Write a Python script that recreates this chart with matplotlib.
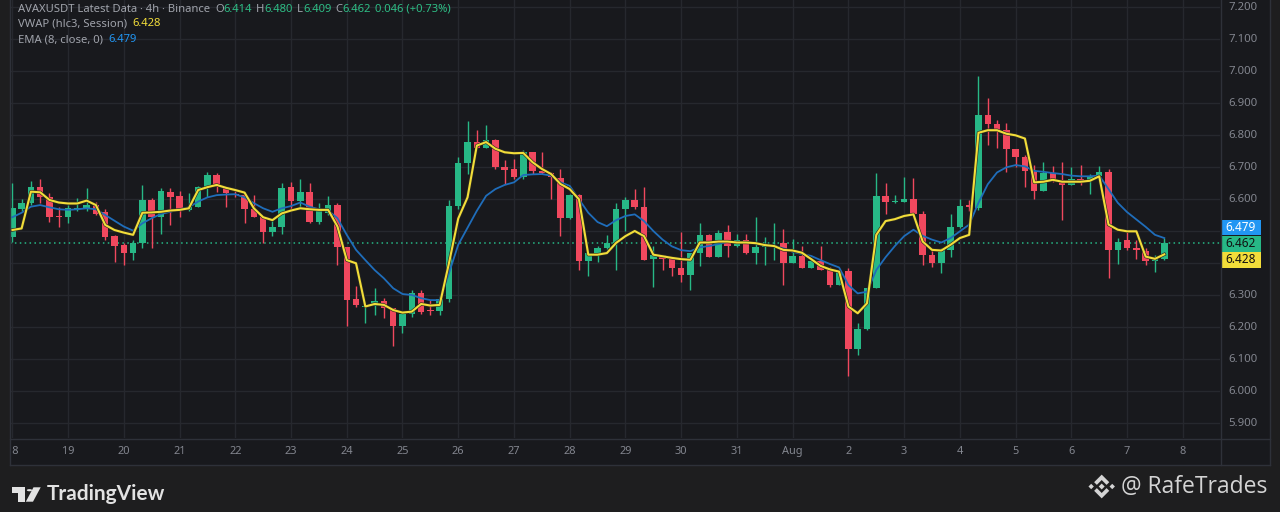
import numpy as np
import matplotlib
matplotlib.use("Agg")
from matplotlib import pyplot as plt
from matplotlib.patches import Rectangle, Polygon, Circle
import matplotlib.patheffects as pe

# ---- 4h candles, AVAXUSDT ----
opens = [6.481, 6.570, 6.588, 6.640, 6.606, 6.547, 6.544, 6.569, 6.570, 6.583,
         6.559, 6.485, 6.457, 6.433, 6.465, 6.598, 6.544, 6.624, 6.610, 6.567,
         6.577, 6.640, 6.676, 6.637, 6.617, 6.614, 6.569, 6.546, 6.499, 6.515,
         6.637, 6.596, 6.624, 6.528, 6.556, 6.582, 6.450, 6.287, 6.265, 6.268,
         6.283, 6.261, 6.204, 6.242, 6.306, 6.253, 6.250, 6.290, 6.579, 6.714,
         6.779, 6.760, 6.784, 6.702, 6.695, 6.669, 6.747, 6.690, 6.682, 6.667,
         6.543, 6.613, 6.406, 6.432, 6.448, 6.462, 6.571, 6.598, 6.577, 6.413,
         6.427, 6.417, 6.385, 6.364, 6.433, 6.489, 6.421, 6.499, 6.454, 6.473,
         6.433, 6.452, 6.455, 6.465, 6.402, 6.424, 6.384, 6.408, 6.381, 6.332,
         6.376, 6.132, 6.195, 6.324, 6.610, 6.593, 6.593, 6.600, 6.553, 6.426,
         6.402, 6.442, 6.514, 6.581, 6.574, 6.863, 6.834, 6.816, 6.758, 6.731,
         6.687, 6.626, 6.682, 6.661, 6.644, 6.663, 6.661, 6.672, 6.686, 6.442,
         6.474, 6.447, 6.440, 6.408, 6.414]
highs = [6.650, 6.600, 6.658, 6.662, 6.619, 6.577, 6.583, 6.603, 6.634, 6.593,
         6.569, 6.488, 6.462, 6.473, 6.645, 6.603, 6.634, 6.634, 6.627, 6.621,
         6.642, 6.686, 6.683, 6.640, 6.629, 6.614, 6.614, 6.546, 6.535, 6.652,
         6.655, 6.662, 6.652, 6.587, 6.610, 6.590, 6.450, 6.329, 6.270, 6.322,
         6.291, 6.261, 6.242, 6.316, 6.318, 6.285, 6.297, 6.598, 6.732, 6.844,
         6.816, 6.832, 6.787, 6.723, 6.726, 6.755, 6.749, 6.747, 6.685, 6.695,
         6.616, 6.616, 6.432, 6.453, 6.487, 6.590, 6.606, 6.632, 6.640, 6.453,
         6.427, 6.417, 6.497, 6.433, 6.527, 6.492, 6.504, 6.519, 6.492, 6.492,
         6.544, 6.483, 6.525, 6.506, 6.475, 6.454, 6.416, 6.454, 6.390, 6.379,
         6.385, 6.212, 6.324, 6.683, 6.652, 6.614, 6.670, 6.666, 6.563, 6.447,
         6.447, 6.553, 6.600, 6.598, 6.987, 6.916, 6.847, 6.837, 6.758, 6.737,
         6.707, 6.718, 6.703, 6.718, 6.700, 6.707, 6.679, 6.705, 6.695, 6.479,
         6.505, 6.474, 6.447, 6.426, 6.480]
lows = [6.467, 6.565, 6.583, 6.590, 6.530, 6.515, 6.527, 6.565, 6.565, 6.551,
        6.473, 6.405, 6.395, 6.410, 6.448, 6.448, 6.492, 6.520, 6.546, 6.565,
        6.575, 6.608, 6.624, 6.577, 6.608, 6.525, 6.544, 6.465, 6.486, 6.492,
        6.567, 6.577, 6.525, 6.523, 6.551, 6.395, 6.204, 6.265, 6.215, 6.238,
        6.228, 6.142, 6.181, 6.233, 6.242, 6.240, 6.240, 6.280, 6.570, 6.679,
        6.760, 6.760, 6.695, 6.648, 6.663, 6.664, 6.680, 6.680, 6.600, 6.485,
        6.538, 6.380, 6.360, 6.404, 6.445, 6.378, 6.500, 6.569, 6.411, 6.325,
        6.380, 6.361, 6.343, 6.317, 6.392, 6.419, 6.419, 6.421, 6.450, 6.429,
        6.398, 6.394, 6.410, 6.332, 6.402, 6.384, 6.384, 6.379, 6.327, 6.332,
        6.048, 6.113, 6.192, 6.324, 6.554, 6.588, 6.593, 6.551, 6.395, 6.387,
        6.370, 6.421, 6.511, 6.563, 6.566, 6.771, 6.760, 6.686, 6.700, 6.637,
        6.600, 6.626, 6.655, 6.535, 6.644, 6.644, 6.616, 6.668, 6.353, 6.398,
        6.442, 6.412, 6.395, 6.374, 6.409]
closes = [6.572, 6.590, 6.640, 6.606, 6.544, 6.546, 6.572, 6.571, 6.583, 6.555,
          6.481, 6.454, 6.433, 6.465, 6.598, 6.544, 6.627, 6.608, 6.565, 6.577,
          6.640, 6.676, 6.637, 6.619, 6.614, 6.569, 6.546, 6.499, 6.515, 6.634,
          6.596, 6.624, 6.528, 6.567, 6.582, 6.450, 6.285, 6.270, 6.268, 6.283,
          6.261, 6.204, 6.242, 6.306, 6.249, 6.250, 6.290, 6.579, 6.714, 6.779,
          6.760, 6.784, 6.700, 6.693, 6.669, 6.747, 6.687, 6.682, 6.669, 6.543,
          6.613, 6.406, 6.432, 6.448, 6.462, 6.571, 6.598, 6.577, 6.411, 6.427,
          6.413, 6.385, 6.364, 6.433, 6.489, 6.421, 6.494, 6.454, 6.473, 6.431,
          6.452, 6.455, 6.458, 6.402, 6.424, 6.384, 6.408, 6.379, 6.332, 6.376,
          6.132, 6.195, 6.324, 6.610, 6.593, 6.596, 6.600, 6.553, 6.426, 6.402,
          6.442, 6.514, 6.579, 6.577, 6.863, 6.834, 6.816, 6.756, 6.731, 6.687,
          6.626, 6.682, 6.661, 6.644, 6.663, 6.657, 6.672, 6.686, 6.442, 6.468,
          6.447, 6.442, 6.408, 6.416, 6.462]

# VWAP (hlc3, Session) line, read per candle
vwap = [6.504, 6.509, 6.624, 6.622, 6.598, 6.590, 6.587, 6.587, 6.596, 6.582,
        6.520, 6.504, 6.496, 6.489, 6.558, 6.559, 6.561, 6.565, 6.567, 6.572,
        6.629, 6.638, 6.645, 6.636, 6.629, 6.621, 6.572, 6.544, 6.535, 6.556,
        6.565, 6.572, 6.569, 6.567, 6.567, 6.515, 6.410, 6.400, 6.265, 6.273,
        6.270, 6.254, 6.246, 6.249, 6.273, 6.268, 6.270, 6.400, 6.540, 6.606,
        6.768, 6.779, 6.758, 6.747, 6.744, 6.745, 6.716, 6.695, 6.679, 6.648,
        6.632, 6.600, 6.427, 6.427, 6.432, 6.464, 6.485, 6.501, 6.485, 6.427,
        6.422, 6.417, 6.413, 6.411, 6.465, 6.465, 6.468, 6.468, 6.465, 6.465,
        6.463, 6.457, 6.454, 6.442, 6.440, 6.433, 6.413, 6.392, 6.381, 6.374,
        6.265, 6.244, 6.275, 6.489, 6.532, 6.538, 6.548, 6.553, 6.468, 6.442,
        6.440, 6.458, 6.479, 6.489, 6.808, 6.816, 6.816, 6.805, 6.800, 6.790,
        6.653, 6.655, 6.661, 6.655, 6.655, 6.655, 6.658, 6.672, 6.521, 6.505,
        6.500, 6.500, 6.421, 6.414, 6.428]

# EMA (8, close, 0) line, read per candle
ema = [6.544, 6.558, 6.577, 6.582, 6.575, 6.569, 6.567, 6.569, 6.572, 6.569,
       6.551, 6.533, 6.515, 6.502, 6.525, 6.541, 6.554, 6.561, 6.569, 6.575,
       6.593, 6.606, 6.613, 6.615, 6.616, 6.606, 6.588, 6.572, 6.561, 6.572,
       6.579, 6.590, 6.577, 6.569, 6.565, 6.541, 6.489, 6.442, 6.410, 6.379,
       6.353, 6.322, 6.304, 6.301, 6.291, 6.285, 6.285, 6.369, 6.458, 6.511,
       6.564, 6.611, 6.632, 6.645, 6.653, 6.676, 6.678, 6.679, 6.674, 6.653,
       6.642, 6.600, 6.558, 6.529, 6.516, 6.535, 6.548, 6.553, 6.532, 6.501,
       6.474, 6.453, 6.441, 6.438, 6.450, 6.454, 6.460, 6.467, 6.467, 6.465,
       6.463, 6.457, 6.454, 6.447, 6.436, 6.429, 6.423, 6.410, 6.398, 6.387,
       6.332, 6.306, 6.311, 6.379, 6.419, 6.454, 6.485, 6.505, 6.486, 6.474,
       6.465, 6.479, 6.500, 6.521, 6.589, 6.647, 6.684, 6.700, 6.707, 6.703,
       6.689, 6.686, 6.682, 6.679, 6.674, 6.672, 6.672, 6.674, 6.632, 6.589,
       6.560, 6.537, 6.514, 6.489, 6.479]

# date labels every 6 candles (one day)
day_labels = ["18", "19", "20", "21", "22", "23", "24", "25", "26", "27", "28",
              "29", "30", "31", "Aug", "2", "3", "4", "5", "6", "7", "8"]
price_ticks = [5.9, 6.0, 6.1, 6.2, 6.3, 6.4, 6.5, 6.6, 6.7, 6.8, 6.9, 7.0, 7.1, 7.2]

last_close = 6.462
last_vwap = 6.428
last_ema = 6.479

# colours
BG = "#18191d"
OUTER = "#1e1e1f"
GRID = "#26282e"
BORDER = "#2e3139"
UP = "#27b886"
DOWN = "#f0485e"
YELLOW = "#f2dd3a"
BLUE = "#1f6dba"
TXT = "#a0a3ab"
AXTXT = "#83868f"

W, H = 1280, 512
FONT = ["Noto Sans", "DejaVu Sans"]
plt.rcParams["font.family"] = FONT


def fx(x):
    return x / W


def fy(y):
    return 1 - y / H


fig = plt.figure(figsize=(12.8, 5.12), dpi=100, facecolor=OUTER)

# chart panel background (behind the axes)
fig.patches.append(Rectangle((fx(10), fy(465)), 1260 / W, 465 / H,
                             transform=fig.transFigure, facecolor=BG,
                             edgecolor="none", zorder=-5))

x0, x1 = -0.25, 130.0
y0, y1 = 5.854, 7.223

ax = fig.add_axes([fx(10), fy(438), 1210 / W, 438 / H])
ax.set_facecolor(BG)
ax.set_xlim(x0, x1)
ax.set_ylim(y0, y1)
for s in ax.spines.values():
    s.set_visible(False)
ax.set_xticks([])
ax.set_yticks([])

n = len(closes)
idx = np.arange(n)
day_pos = np.arange(len(day_labels)) * 6

# grid
for p in price_ticks:
    ax.axhline(p, color=GRID, linewidth=1, zorder=1)
for d in day_pos:
    ax.axvline(d, color=GRID, linewidth=1, zorder=1)

# candles
o = np.array(opens)
c = np.array(closes)
hi = np.array(highs)
lo = np.array(lows)
cols = np.where(c >= o, UP, DOWN)
ax.vlines(idx, lo, hi, colors=cols, linewidth=1, zorder=3)
body_low = np.minimum(o, c)
body_h = np.maximum(np.abs(c - o), 0.003)
ax.bar(idx, body_h, bottom=body_low, width=0.7, color=cols,
       linewidth=0, zorder=4)

# indicator lines
ax.plot(idx, ema, color=BLUE, linewidth=1.3, zorder=5)
ax.plot(idx, vwap, color=YELLOW, linewidth=1.5, zorder=6,
        path_effects=[pe.Stroke(linewidth=2.4, foreground="#2e2d1e"),
                      pe.Normal()])

# last price dotted line
ax.axhline(last_close, color=UP, linestyle=(0, (1, 2.2)), linewidth=1.1,
           zorder=2)

# time axis
ax_t = fig.add_axes([fx(10), fy(465), 1210 / W, 27 / H])
ax_t.set_facecolor(BG)
ax_t.set_xlim(x0, x1)
ax_t.set_ylim(0, 1)
ax_t.set_xticks([])
ax_t.set_yticks([])
for s in ax_t.spines.values():
    s.set_visible(False)
for d, lab in zip(day_pos, day_labels):
    ax_t.text(d, 0.5, lab, color=AXTXT, fontsize=7.9, ha="center",
              va="center", clip_on=True)

# price axis
ax_p = fig.add_axes([fx(1220), fy(438), 50 / W, 438 / H])
ax_p.set_facecolor(BG)
ax_p.set_ylim(y0, y1)
ax_p.set_xlim(0, 50)
ax_p.axis("off")
for p in price_ticks:
    if abs(p - 6.5) < 1e-6 or abs(p - 6.4) < 1e-6:
        continue  # hidden behind the value tags
    ax_p.text(8, p, f"{p:.3f}", color=AXTXT, fontsize=8.2, ha="left",
              va="center")

# value tags on the price axis
px_per_unit = 438 / (y1 - y0)
tag_h = 16.3 / px_per_unit
tags = [(last_ema, last_close + tag_h, "#2196f3", "white"),
        (last_close, last_close, UP, "#111111"),
        (last_vwap, last_close - tag_h, YELLOW, "#111111")]
for val, ypos, bg, fg in tags:
    ax_p.add_patch(Rectangle((0.7, ypos - tag_h / 2), 40, tag_h * 0.97,
                             facecolor=bg, edgecolor="none", zorder=5))
    ax_p.text(20.7, ypos, f"{val:.3f}", color=fg, fontsize=8.5,
              ha="center", va="center", zorder=6)


# panel borders
def hline(y, xa, xb):
    fig.add_artist(plt.Line2D([fx(xa), fx(xb)], [fy(y), fy(y)],
                              transform=fig.transFigure, color=BORDER,
                              linewidth=1))


def vline(x, ya, yb):
    fig.add_artist(plt.Line2D([fx(x), fx(x)], [fy(ya), fy(yb)],
                              transform=fig.transFigure, color=BORDER,
                              linewidth=1))


hline(438.5, 10, 1270)
hline(465, 10, 1270)
vline(1220.5, 0, 465)
vline(1269.5, 0, 465)
vline(10, 0, 465)

# legend / header lines
renderer = fig.canvas.get_renderer()


def pieces(x, y, parts, size=8.1):
    for s, color, gap in parts:
        t = fig.text(fx(x), fy(y), s, color=color, fontsize=size,
                     ha="left", va="center")
        x += t.get_window_extent(renderer).width + gap


GREEN_TXT = "#2ebd85"
pieces(18, 9, [("AVAXUSDT Latest Data · 4h · Binance", TXT, 5),
               ("O", TXT, 0), ("6.414", GREEN_TXT, 4),
               ("H", TXT, 0), ("6.480", GREEN_TXT, 4),
               ("L", TXT, 0), ("6.409", GREEN_TXT, 4),
               ("C", TXT, 0), ("6.462", GREEN_TXT, 4),
               ("0.046 (+0.73%)", GREEN_TXT, 0)])
pieces(18, 24, [("VWAP (hlc3, Session)", TXT, 5), ("6.428", YELLOW, 0)])
pieces(18, 40, [("EMA (8, close, 0)", TXT, 5), ("6.479", "#2196f3", 0)])

# footer: TradingView logo
LOGO = "#e2e2e2"


def fig_poly(pts, **kw):
    fig.patches.append(Polygon([(fx(a), fy(b)) for a, b in pts],
                               closed=True, transform=fig.transFigure, **kw))


fig_poly([(11.7, 487.3), (25, 487.3), (25, 501.7), (18.3, 501.7),
          (18.3, 492.7), (11.7, 492.7)], facecolor=LOGO, edgecolor="none")
fig.patches.append(Circle((fx(29.5), fy(490.2)), 2.7 / W,
                          transform=fig.transFigure, facecolor=LOGO,
                          edgecolor="none"))
fig_poly([(33.5, 487.3), (40.7, 487.3), (33.0, 501.7), (25.8, 501.7)],
         facecolor=LOGO, edgecolor="none")
fig.text(fx(47), fy(494), "TradingView", color=LOGO, fontsize=15,
         fontweight="bold", ha="left", va="center",
         family=["Lato", "DejaVu Sans"])

# footer: Binance mark and handle
cx, cy, u = 1101.7, 486.5, 13.5


def diamond(x, y, r):
    fig_poly([(x, y - r), (x + r, y), (x, y + r), (x - r, y)],
             facecolor="#d4d4d4", edgecolor="none")


diamond(cx, cy, 0.22 * u)
diamond(cx - 0.78 * u, cy, 0.2 * u)
diamond(cx + 0.78 * u, cy, 0.2 * u)
for sgn in (-1, 1):
    fig_poly([(cx - 0.56 * u, cy + sgn * 0.32 * u),
              (cx, cy + sgn * 0.88 * u),
              (cx + 0.56 * u, cy + sgn * 0.32 * u),
              (cx + 0.36 * u, cy + sgn * 0.12 * u),
              (cx, cy + sgn * 0.48 * u),
              (cx - 0.36 * u, cy + sgn * 0.12 * u)],
             facecolor="#d4d4d4", edgecolor="none")
fig.text(fx(1121), fy(487), "@ RafeTrades", color="#d4d4d4", fontsize=16.5,
         ha="left", va="center", family=["Open Sans", "DejaVu Sans"])

fig.savefig("out.png", dpi=100, facecolor=OUTER)
